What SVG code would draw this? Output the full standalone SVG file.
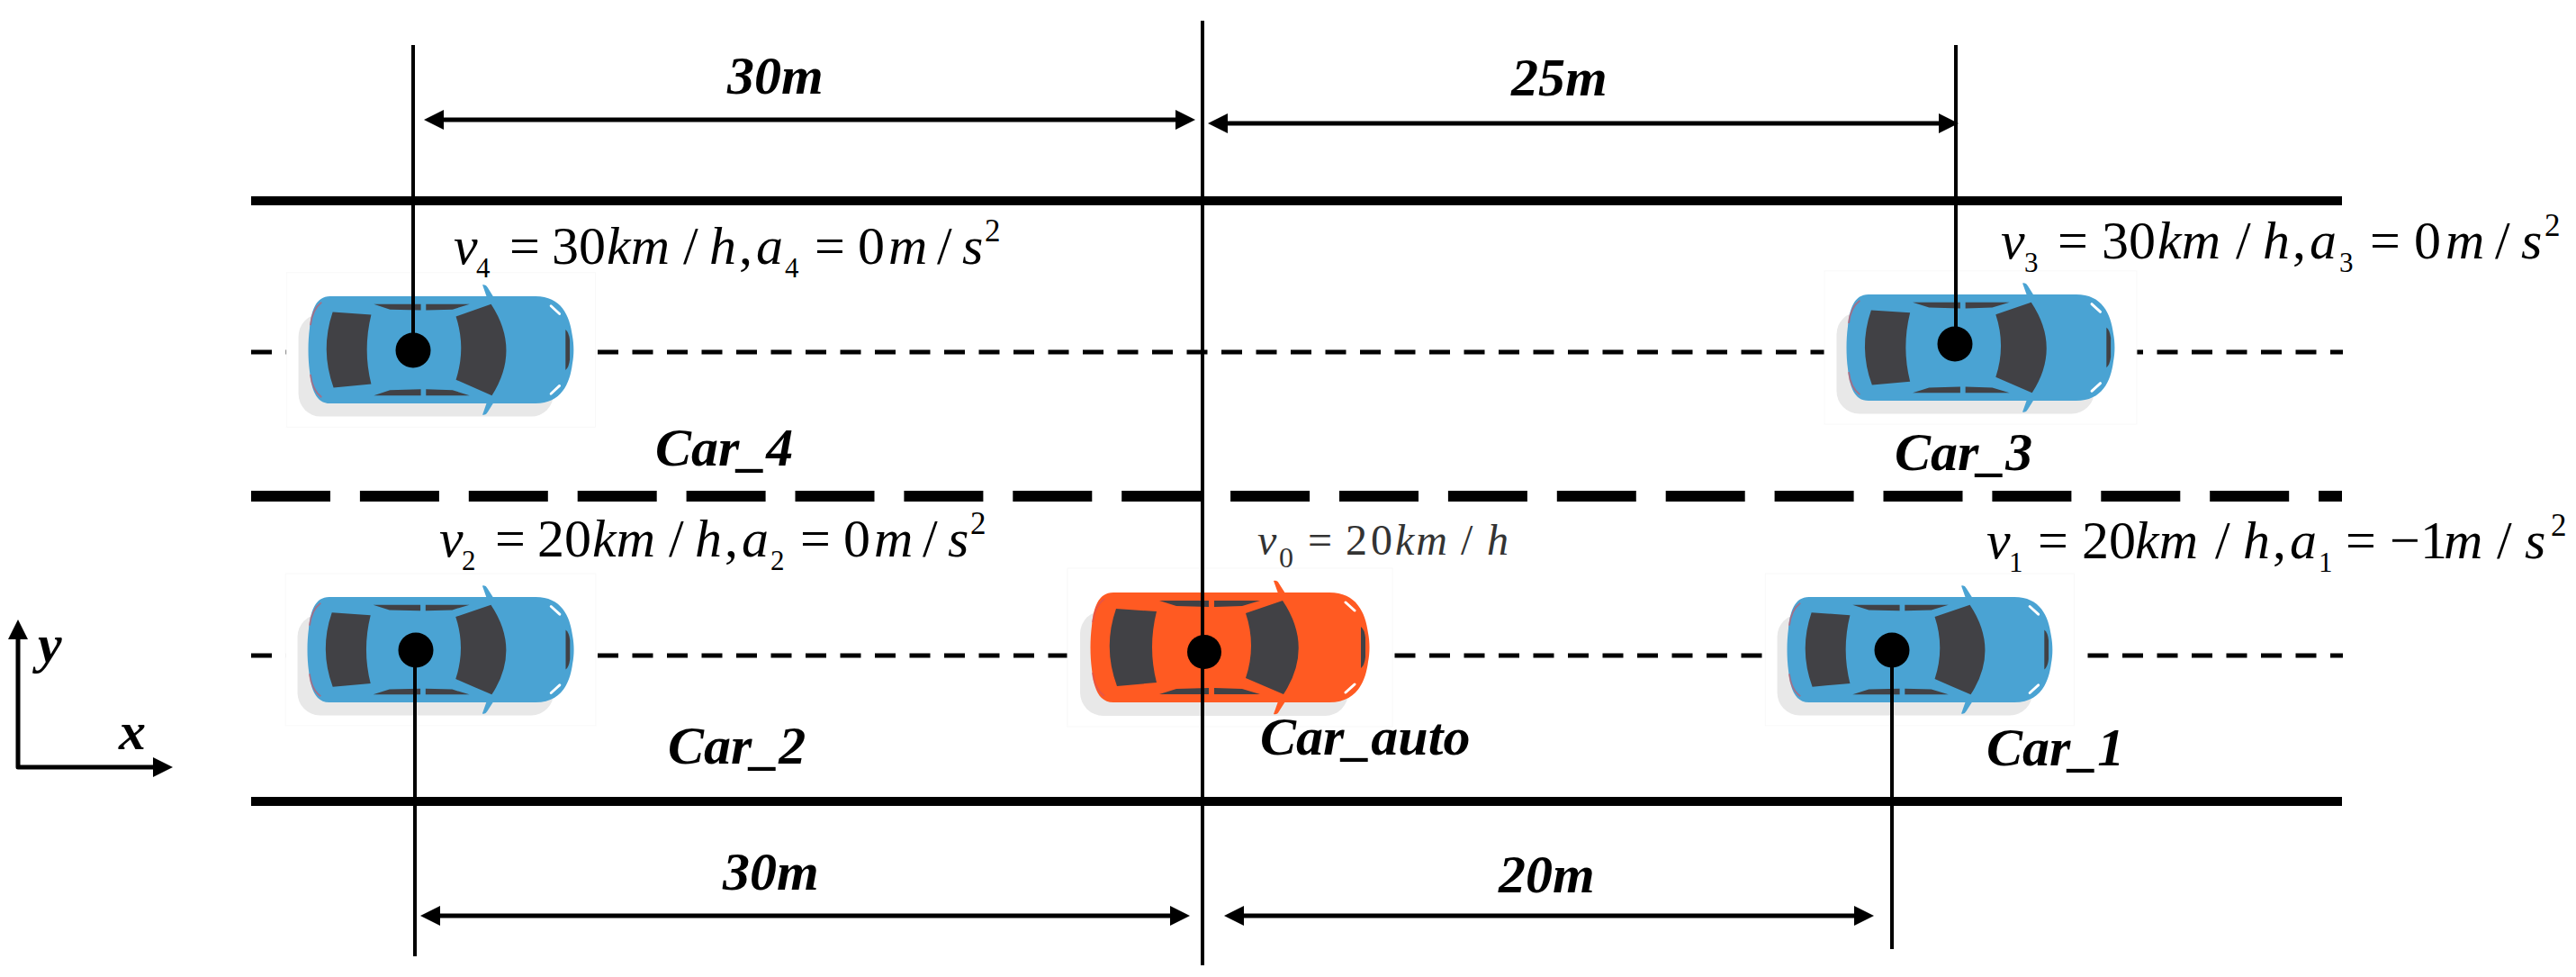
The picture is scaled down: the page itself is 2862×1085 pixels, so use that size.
<svg xmlns="http://www.w3.org/2000/svg" width="2862" height="1085" viewBox="0 0 2862 1085">
<style>
text{font-family:"Liberation Serif","Times New Roman",serif;fill:#000}
.lbl{font-size:60px;font-weight:bold;font-style:italic}
.eq{font-size:60px}
.eq0{font-size:48px;fill:#333}
.i{font-style:italic}
.s{font-size:31px}
.u{font-size:35px}
.s0{font-size:32px}
.road{fill:#000}
.dim{stroke:#000;stroke-width:5;fill:none;marker-start:url(#head);marker-end:url(#head)}
.ref{stroke:#000;stroke-width:4;fill:none}
.dot{fill:#000}
.blue{color:#4aa3d3}
.orange{color:#ff5a22}
.win{fill:#414145}
</style>
<defs>
<marker id="head" markerUnits="userSpaceOnUse" markerWidth="24" markerHeight="24" refX="10" refY="11" orient="auto-start-reverse"><path d="M0 0L22 11L0 22Z" fill="#000"/></marker>
<g id="car-art">
<rect x="-26" y="-27" width="361" height="176" fill="#fff" stroke="#f8f8f8" stroke-width="1"/>
<rect x="-12" y="20" width="298" height="117" rx="26" fill="#e8e8e8"/>
<path d="M203 -13Q207 -14 209 -10L216 1L208 1Z M203 135Q207 136 209 132L216 121L208 121Z" fill="currentColor"/>
<path d="M25 0L265 0C295 0 305 22 308 45C310 55 310 67 308 77C305 100 295 122 265 122L25 122C8 122 3 105 1 85C-1 70 -1 52 1 37C3 17 8 0 25 0Z" fill="currentColor"/>
<path d="M2 33Q4 15 15 7M2 89Q4 107 15 115" fill="none" stroke="#d8505a" stroke-width="2" opacity=".6"/>
<path class="win" d="M28 18L73 21Q63 61 73 100L29 104Q13 61 28 18Z"/>
<path class="win" d="M172 23L213 9Q248 61 214 113L172 95Q184 59 172 23Z"/>
<path class="win" d="M76 9L131 9L131 16L95 15Z M137 9L188 9L168 15L137 16Z M76 113L131 113L131 106L95 107Z M137 113L188 113L168 107L137 106Z"/>
<path class="win" d="M300 38Q304 41 305 50L305 72Q304 81 300 84Z"/>
<path d="M283 11L293 20M283 111L293 102" stroke="#fff" stroke-width="3" stroke-linecap="round" fill="none"/>
</g>
</defs>
<rect width="2862" height="1085" fill="#fff"/>
<g id="road">
<rect class="road" x="279" y="218" width="2323" height="10"/>
<rect class="road" x="279" y="885" width="2323" height="10"/>
<line x1="279" y1="551" x2="2602" y2="551" stroke="#000" stroke-width="12" stroke-dasharray="88 32.900"/>
<line x1="279" y1="391" x2="2603" y2="391" stroke="#000" stroke-width="5" stroke-dasharray="23 15.500"/>
<line x1="279" y1="728" x2="2603" y2="728" stroke="#000" stroke-width="5" stroke-dasharray="23 15.500"/>
</g>
<g id="car_4">
<use href="#car-art" class="blue" transform="translate(343 329) scale(.951 .975)"/>
<circle class="dot" cx="459" cy="389" r="19.500"/>
<text class="lbl" x="728" y="517">Car_4</text>
<text class="eq"><tspan class="i" x="504" y="293">v</tspan><tspan class="s" x="529" y="308">4</tspan><tspan x="566" y="293">=</tspan><tspan x="613">30</tspan><tspan class="i" x="674">km</tspan><tspan x="759">/</tspan><tspan class="i" x="788">h</tspan><tspan x="821">,</tspan><tspan class="i" x="840">a</tspan><tspan class="s" x="872" y="308">4</tspan><tspan x="905" y="293">=</tspan><tspan x="953">0</tspan><tspan class="i" x="987">m</tspan><tspan x="1041">/</tspan><tspan class="i" x="1069">s</tspan><tspan class="u" x="1094" y="268">2</tspan></text>
</g>
<g id="car_3">
<use href="#car-art" class="blue" transform="translate(2052 327) scale(.961 .967)"/>
<circle class="dot" cx="2172" cy="382" r="19.500"/>
<text class="lbl" x="2105" y="522">Car_3</text>
<text class="eq"><tspan class="i" x="2223" y="287">v</tspan><tspan class="s" x="2249" y="302">3</tspan><tspan x="2286" y="287">=</tspan><tspan x="2335">30</tspan><tspan class="i" x="2397">km</tspan><tspan x="2484">/</tspan><tspan class="i" x="2514">h</tspan><tspan x="2547">,</tspan><tspan class="i" x="2566">a</tspan><tspan class="s" x="2599" y="302">3</tspan><tspan x="2633" y="287">=</tspan><tspan x="2682">0</tspan><tspan class="i" x="2717">m</tspan><tspan x="2772">/</tspan><tspan class="i" x="2801">s</tspan><tspan class="u" x="2827" y="262">2</tspan></text>
</g>
<g id="car_2">
<use href="#car-art" class="blue" transform="translate(342 663) scale(.955 .959)"/>
<circle class="dot" cx="462" cy="722" r="19.500"/>
<text class="lbl" x="742" y="848">Car_2</text>
<text class="eq"><tspan class="i" x="488" y="618">v</tspan><tspan class="s" x="513" y="633">2</tspan><tspan x="550" y="618">=</tspan><tspan x="597">20</tspan><tspan class="i" x="658">km</tspan><tspan x="743">/</tspan><tspan class="i" x="772">h</tspan><tspan x="805">,</tspan><tspan class="i" x="824">a</tspan><tspan class="s" x="856" y="633">2</tspan><tspan x="889" y="618">=</tspan><tspan x="937">0</tspan><tspan class="i" x="971">m</tspan><tspan x="1025">/</tspan><tspan class="i" x="1053">s</tspan><tspan class="u" x="1078" y="593">2</tspan></text>
</g>
<g id="car_1">
<use href="#car-art" class="blue" transform="translate(1986 663) scale(.951 .959)"/>
<circle class="dot" cx="2102" cy="722" r="19.500"/>
<text class="lbl" x="2207" y="850">Car_1</text>
<text class="eq"><tspan class="i" x="2207" y="620">v</tspan><tspan class="s" x="2232" y="635">1</tspan><tspan x="2264" y="620">=</tspan><tspan x="2313">20</tspan><tspan class="i" x="2372">km</tspan><tspan x="2461">/</tspan><tspan class="i" x="2492">h</tspan><tspan x="2525">,</tspan><tspan class="i" x="2544">a</tspan><tspan class="s" x="2576" y="635">1</tspan><tspan x="2606" y="620">=</tspan><tspan x="2655">−</tspan><tspan x="2689">1</tspan><tspan class="i" x="2715">m</tspan><tspan x="2774">/</tspan><tspan class="i" x="2805">s</tspan><tspan class="u" x="2834" y="595">2</tspan></text>
</g>
<g id="car_auto">
<use href="#car-art" class="orange" transform="translate(1212 658)"/>
<circle class="dot" cx="1338" cy="724" r="19"/>
<text class="lbl" x="1400" y="838">Car_auto</text>
<text class="eq0"><tspan class="i" x="1397" y="616">v</tspan><tspan class="s0" x="1421" y="630">0</tspan><tspan x="1453" y="616">=</tspan><tspan x="1495" letter-spacing="4">20</tspan><tspan class="i" x="1550" letter-spacing="2">km</tspan><tspan x="1623">/</tspan><tspan class="i" x="1652">h</tspan></text>
</g>
<g id="connectors">
<line class="ref" x1="459" y1="50" x2="459" y2="389"/>
<line class="ref" x1="461" y1="722" x2="461" y2="1062"/>
<line class="ref" x1="1336" y1="23" x2="1336" y2="1072"/>
<line class="ref" x1="2173" y1="50" x2="2173" y2="382"/>
<line class="ref" x1="2102" y1="722" x2="2102" y2="1054"/>
<line class="dim" x1="483" y1="133" x2="1316" y2="133"/>
<line class="dim" x1="1354" y1="137" x2="2164" y2="137"/>
<line class="dim" x1="479" y1="1017" x2="1310" y2="1017"/>
<line class="dim" x1="1372" y1="1017" x2="2070" y2="1017"/>
<path d="M20 700V852H180" stroke="#000" stroke-width="5" fill="none" stroke-linejoin="round" marker-start="url(#head)" marker-end="url(#head)"/>
</g>
<g id="labels">
<text class="lbl" x="808" y="104">30m</text>
<text class="lbl" x="1679" y="106">25m</text>
<text class="lbl" x="803" y="988">30m</text>
<text class="lbl" x="1665" y="991">20m</text>
<text class="lbl" x="42" y="735">y</text>
<text class="lbl" x="132" y="832">x</text>
</g>
</svg>
